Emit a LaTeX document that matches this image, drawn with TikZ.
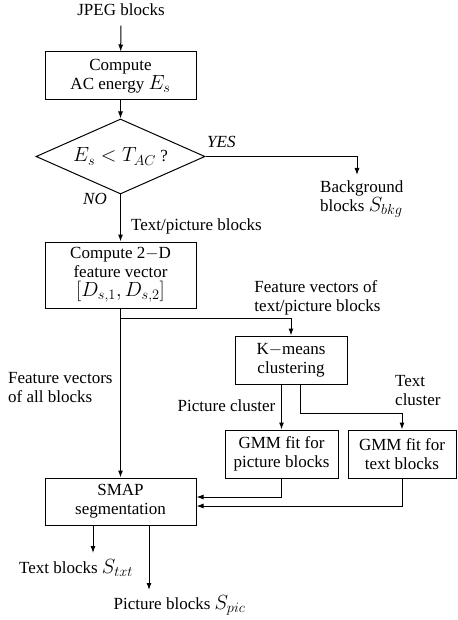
\RequirePackage{fix-cm}
\documentclass[tikz,border=0pt]{standalone}
\usepackage[no-math]{fontspec}
\setmainfont{Liberation Serif}
\usetikzlibrary{arrows.meta,shapes.geometric,calc}
\newcommand\bigmath[1]{{\fontsize{20.5}{19}\selectfont$#1$}}
\begin{document}
\begin{tikzpicture}[x=1pt,y=-1pt,
  every node/.style={font=\fontsize{17}{19}\selectfont},
  box/.style={draw,line width=1pt,align=center,inner sep=0pt},
  lbl/.style={inner sep=0pt,align=left},
  conn/.style={line width=1pt,-{Latex[length=7pt,width=5pt]}}]
\useasboundingbox (0,0) rectangle (457,620);
% boxes
\node (jpeg) at (121,10) {JPEG blocks};
\node[box,minimum width=151pt,minimum height=48pt] (ac) at (120.5,76) {Compute\\AC energy \bigmath{E_s}};
\node[draw,diamond,line width=1pt,aspect=2.25,minimum width=169pt,minimum height=75pt,inner sep=0pt] (dia) at (120.5,156.5) {\bigmath{E_s < T_{AC}} ?};
\node[box,minimum width=151pt,minimum height=66pt] (fv) at (120.5,275) {Compute 2$-$D\\feature vector\\\bigmath{[D_{s,1}, D_{s,2}]}};
\node[box,minimum width=112pt,minimum height=48pt] (km) at (291,360) {K$-$means\\clustering};
\node[box,minimum width=113pt,minimum height=48pt] (gp) at (281.5,454) {GMM fit for\\picture blocks};
\node[box,minimum width=108pt,minimum height=48pt] (gt) at (402,454) {GMM fit for\\text blocks};
\node[box,minimum width=151pt,minimum height=47pt] (smap) at (120.5,501.5) {SMAP\\segmentation};
% labels
\node[lbl,anchor=west] (yes) at (207,142) {\itshape YES};
\node[lbl] (no) at (95,199) {\itshape NO};
\node[lbl,anchor=west] (bkg) at (320,199) {Background\\blocks \bigmath{S_{bkg}}};
\node[lbl,anchor=west] (tp) at (131,226) {Text/picture blocks};
\node[lbl] (fvtp) at (317.5,297.5) {Feature vectors of\\text/picture blocks};
\node[lbl,anchor=west] (fvall) at (8,388) {Feature vectors\\of all blocks};
\node[lbl] (pc) at (226.5,406) {Picture cluster};
\node[lbl,anchor=west] (tc) at (395,391) {Text\\cluster};
\node[lbl] (txt) at (76,568) {Text blocks \bigmath{S_{txt}}};
\node[lbl] (pic) at (179.5,605) {Picture blocks \bigmath{S_{pic}}};
% coordinates
\coordinate (bkgin) at (357,175);
\coordinate (txtin) at (93,553);
\coordinate (picin) at (149,590);
\coordinate (split) at (120.5,318);
\coordinate (kturn) at (300,413);
% connectors
\draw[conn,shorten <=6pt] (jpeg) -- (ac);
\draw[conn] (ac) -- (dia);
\draw[conn] (dia.east) -| (bkgin);
\draw[conn] (dia) -- (fv);
\draw[conn] (fv) -- (smap);
\draw[conn] (split) -| (km.north);
\draw[conn] (km.south -| gp.north) -- (gp.north);
\draw[conn] (km.south -| kturn) -- (kturn) -| (gt.north);
\draw[conn] (gp.south) |- ([yshift=4.5pt]smap.east);
\draw[conn] (gt.south) |- ([yshift=-4.5pt]smap.east);
\draw[conn] (smap.south -| txtin) -- (txtin);
\draw[conn] (smap.south -| picin) -- (picin);
\end{tikzpicture}
\end{document}
